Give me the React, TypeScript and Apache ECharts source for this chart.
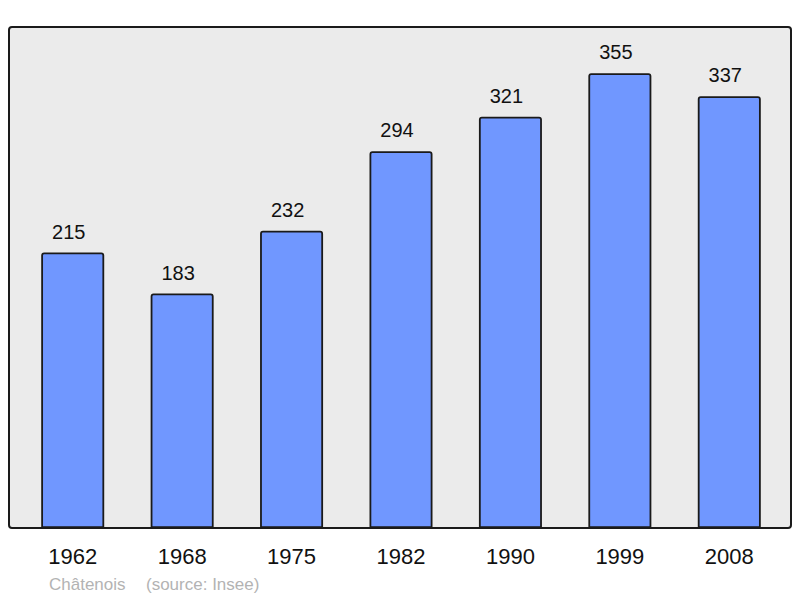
import React, { useEffect, useRef } from "react";
import * as echarts from "echarts";

const years = ["1962", "1968", "1975", "1982", "1990", "1999", "2008"];
const population = [215, 183, 232, 294, 321, 355, 337];
const townName = "Châtenois";
const sourceText = "(source: Insee)";

export default function App() {
  const ref = useRef<HTMLDivElement>(null);
  useEffect(() => {
    if (!ref.current) return;
    const chart = echarts.init(ref.current, null, { renderer: "svg" });
    chart.setOption({
      animation: false,
      backgroundColor: "#ffffff",
      textStyle: { fontFamily: "Liberation Sans, Arial, sans-serif" },
      graphic: [
        {
          type: "rect",
          z: -10,
          shape: { x: 9, y: 27, width: 782, height: 501, r: 3 },
          style: { fill: "#ebebeb", stroke: "#1a1a1a", lineWidth: 2 },
        },
        {
          type: "text",
          x: 49,
          y: 584,
          style: {
            text: townName,
            fill: "#b3b3b3",
            font: "17px Liberation Sans, Arial, sans-serif",
            verticalAlign: "middle",
          },
        },
        {
          type: "text",
          x: 146,
          y: 584,
          style: {
            text: sourceText,
            fill: "#b3b3b3",
            font: "17px Liberation Sans, Arial, sans-serif",
            verticalAlign: "middle",
          },
        },
      ],
      grid: { left: 18, right: 16, top: 27, bottom: 70 },
      xAxis: {
        type: "category",
        data: years,
        axisLine: { show: false },
        axisTick: { show: false },
        axisLabel: { fontSize: 22, color: "#111", margin: 17 },
      },
      yAxis: {
        type: "value",
        min: 0,
        max: 391,
        show: false,
        splitLine: { show: false },
      },
      series: [
        {
          type: "bar",
          data: population,
          barWidth: 63,
          itemStyle: {
            color: "#7097ff",
            borderColor: "#1a1a1a",
            borderWidth: 1.8,
            borderRadius: [2, 2, 0, 0],
          },
          label: {
            show: true,
            position: "top",
            distance: 11,
            offset: [-4, 0],
            fontSize: 20,
            color: "#111",
          },
        },
      ],
    });
    return () => chart.dispose();
  }, []);
  return <div ref={ref} style={{ width: 800, height: 598, position: "absolute", left: 0, top: 0 }} />;
}
